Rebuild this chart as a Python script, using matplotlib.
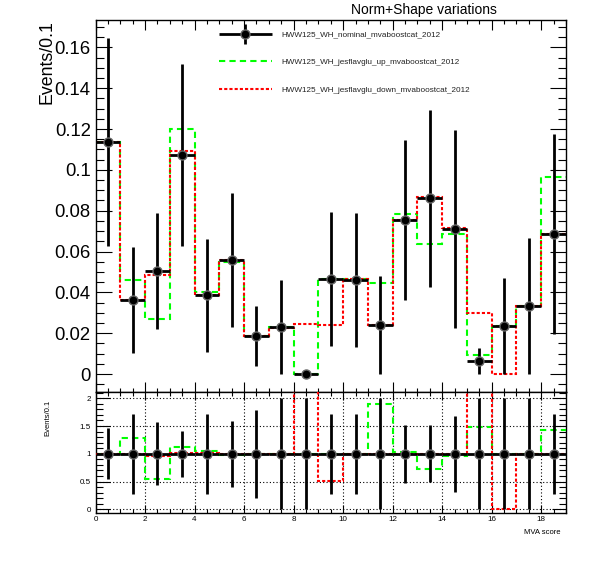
import numpy as np
import matplotlib
matplotlib.use("Agg")
import matplotlib.pyplot as plt
from matplotlib.ticker import MultipleLocator, FuncFormatter
from matplotlib.lines import Line2D
from matplotlib.legend_handler import HandlerErrorbar
from matplotlib.container import ErrorbarContainer

# ---------------- data ----------------
edges = np.arange(0, 20, 1.0)          # 19 bins of width 1 (MVA score)
nominal = [0.1135, 0.0361, 0.0504, 0.1074, 0.0385, 0.0558, 0.0186, 0.0230, 0.0000,
           0.0465, 0.0460, 0.0240, 0.0754, 0.0860, 0.0710, 0.0064, 0.0237, 0.0333, 0.0686]
nominal_err = [0.0510, 0.0260, 0.0283, 0.0445, 0.0275, 0.0327, 0.0145, 0.0230, 0.0,
               0.0328, 0.0330, 0.0240, 0.0390, 0.0434, 0.0483, 0.0062, 0.0235, 0.0333, 0.0490]
up = [0.1138, 0.0460, 0.0269, 0.1200, 0.0402, 0.0547, 0.0186, 0.0230, 0.0000,
      0.0465, 0.0465, 0.0447, 0.0783, 0.0635, 0.0684, 0.0093, 0.0237, 0.0333, 0.0966]
down = [0.1135, 0.0361, 0.0485, 0.1094, 0.0389, 0.0558, 0.0186, 0.0227, 0.0243,
        0.0240, 0.0465, 0.0240, 0.0754, 0.0865, 0.0713, 0.0297, 0.0000, 0.0333, 0.0686]

ratio_nom = [1.0] * 19
ratio_nom_err = [0.46, 0.72, 0.57, 0.41, 0.72, 0.59, 0.79, 1.0, 1.0,
                 0.72, 0.72, 1.0, 0.52, 0.51, 0.68, 1.0, 1.0, 1.0, 0.72]
ratio_up = [1.0, 1.29, 0.55, 1.13, 1.045, 0.98, 1.0, 1.0, 1.0,
            1.0, 1.0, 1.89, 1.04, 0.726, 0.96, 1.49, 1.0, 1.0, 1.42]
ratio_down = [1.0, 1.0, 0.96, 1.02, 1.01, 1.0, 1.0, 0.99, 5.0,
              0.516, 1.0, 1.0, 1.0, 1.0, 1.0, 4.6, 0.0, 1.0, 1.0]

labels = ["HWW125_WH_nominal_mvaboostcat_2012",
          "HWW125_WH_jesflavglu_up_mvaboostcat_2012",
          "HWW125_WH_jesflavglu_down_mvaboostcat_2012"]
title = "Norm+Shape variations"
ylabel = "Events/0.1"
xlabel = "MVA score"

# ---------------- style ----------------
plt.rcParams['font.family'] = ['Liberation Sans', 'DejaVu Sans']
W, H = 596, 572
fig = plt.figure(figsize=(W / 100, H / 100), dpi=100)

def px_axes(l, t, r, b):
    return fig.add_axes([l / W, 1 - b / H, (r - l) / W, (b - t) / H])

ax = px_axes(95.5, 20, 566, 392)
rax = px_axes(95.5, 392, 566, 513)

centers = 0.5 * (edges[:-1] + edges[1:])
xerr = 0.5 * np.diff(edges)

GREEN = '#00ff00'
RED = '#ff0000'
LW = 1.5
DASH_UP = (0, (3, 2))
DASH_DN = (0, (1.5, 1))

def style_axes(a):
    for s in a.spines.values():
        s.set_linewidth(1.0)
    a.set_xlim(edges[0], edges[-1])
    a.xaxis.set_major_locator(MultipleLocator(2))
    a.xaxis.set_minor_locator(MultipleLocator(0.5))
    a.tick_params(which='both', direction='in', top=True, right=True, width=0.8)

# ---------------- main panel ----------------
style_axes(ax)
ax.stairs(up, edges, color=GREEN, lw=LW, linestyle=DASH_UP, baseline=None)
ax.stairs(down, edges, color=RED, lw=LW, linestyle=DASH_DN, baseline=None)
eb = ax.errorbar(centers, nominal, yerr=nominal_err, xerr=xerr, fmt='o', color='black',
                 ms=6.5, mec='0.4', mew=1.0, elinewidth=2.0, capsize=0, zorder=5)
ax.set_ylim(-0.0088, 0.1734)
ax.yaxis.set_major_locator(MultipleLocator(0.02))
ax.yaxis.set_minor_locator(MultipleLocator(0.005))
ax.yaxis.set_major_formatter(FuncFormatter(lambda v, p: f"{v:g}" if abs(v) > 1e-9 else "0"))
ax.tick_params(axis='y', which='major', length=11.5, labelsize=13.3, pad=3.5)
ax.tick_params(axis='y', which='minor', length=5.8)
ax.tick_params(axis='x', which='major', length=7, labelbottom=False)
ax.tick_params(axis='x', which='minor', length=3)

fig.text(47 / W, 1 - 20 / H, ylabel, rotation=90, fontsize=12.8, ha='center', va='top')
fig.text(424 / W, 1 - 10 / H, title, fontsize=10, ha='center', va='center')

h_up = Line2D([], [], color=GREEN, lw=LW, linestyle=DASH_UP)
h_dn = Line2D([], [], color=RED, lw=LW, linestyle=DASH_DN)
leg = ax.legend([eb, h_up, h_dn], labels, loc='upper left',
                bbox_to_anchor=(219 / W, 1 - 31 / H), bbox_transform=fig.transFigure,
                frameon=False, fontsize=5.85, handlelength=6.5, handletextpad=1.2,
                labelspacing=2.45, borderpad=0, borderaxespad=0,
                handler_map={ErrorbarContainer: HandlerErrorbar(xerr_size=3.25, yerr_size=1.2)})
for t in leg.get_texts():
    t.set_color('#222222')

# ---------------- ratio panel ----------------
style_axes(rax)
rax.grid(True, which='major', color='black', linestyle=(0, (1, 2)), linewidth=0.8)
rax.set_axisbelow(True)
rax.stairs(ratio_up, edges, color=GREEN, lw=LW, linestyle=DASH_UP, baseline=None, zorder=3)
rax.stairs(ratio_down, edges, color=RED, lw=LW, linestyle=DASH_DN, baseline=None, zorder=4)
rax.errorbar(centers, ratio_nom, yerr=ratio_nom_err, xerr=xerr, fmt='o', color='black',
             ms=6.5, mec='0.4', mew=1.0, elinewidth=2.0, capsize=0, zorder=5)
rax.set_ylim(-0.067, 2.113)
rax.yaxis.set_major_locator(MultipleLocator(0.5))
rax.yaxis.set_minor_locator(MultipleLocator(0.1))
rax.yaxis.set_major_formatter(FuncFormatter(lambda v, p: f"{v:g}"))
rax.xaxis.set_major_formatter(FuncFormatter(lambda v, p: f"{v:g}"))
rax.tick_params(axis='y', which='major', length=10, labelsize=5.8, pad=3.5)
rax.tick_params(axis='y', which='minor', length=5)
rax.tick_params(axis='x', which='major', length=6, labelsize=5.8, pad=2.5)
rax.tick_params(axis='x', which='minor', length=3)

fig.text(48 / W, 1 - 418 / H, ylabel, rotation=90, fontsize=5.5, ha='center', va='center')
fig.text(561 / W, 1 - 532 / H, xlabel, fontsize=5.5, ha='right', va='center')

fig.savefig("out.png", dpi=100)
